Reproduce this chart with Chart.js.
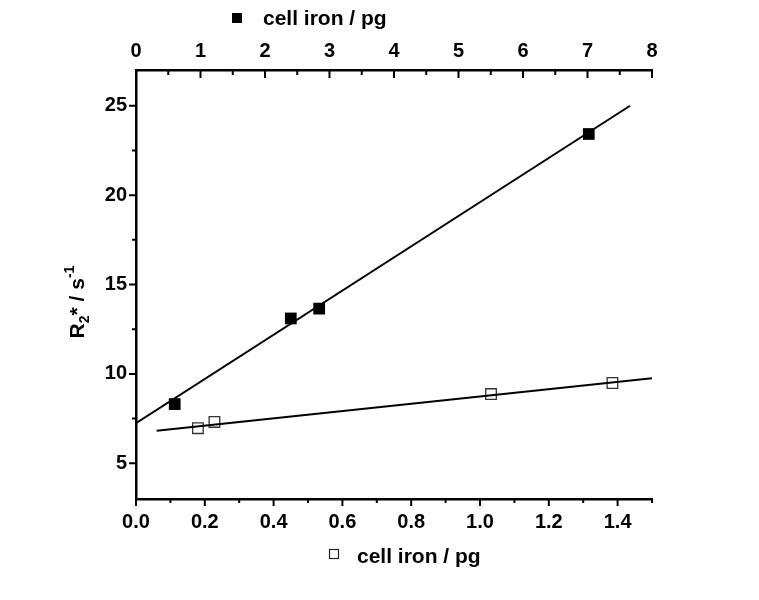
<!DOCTYPE html>
<html>
<head>
<meta charset="utf-8">
<script src="https://cdn.jsdelivr.net/npm/chart.js@4.4.1/dist/chart.umd.min.js"></script>
<style>
  html, body { margin: 0; padding: 0; background: #fff; }
</style>
</head>
<body>
<canvas id="r2Chart" width="759" height="600"></canvas>
<script>
// filled squares - plotted against the top axis (0..8 pg)
var filledIron = [0.6, 2.4, 2.84, 7.02];
var filledR2 = [8.31, 13.1, 13.65, 23.42];
var filledFitIron = [0, 7.66];
var filledFitR2 = [7.24, 25.0];

// open squares - plotted against the bottom axis (0..1.5 pg)
var openIron = [0.18, 0.228, 1.032, 1.385];
var openR2 = [6.96, 7.31, 8.87, 9.49];
var openFitIron = [0.06, 1.5];
var openFitR2 = [6.82, 9.75];

// tick positions
var bottomTicks = [0, 0.2, 0.4, 0.6, 0.8, 1.0, 1.2, 1.4];
var bottomMinor = [0.1, 0.3, 0.5, 0.7, 0.9, 1.1, 1.3, 1.5];
var topTicks = [0, 1, 2, 3, 4, 5, 6, 7, 8];
var topMinor = [0.5, 1.5, 2.5, 3.5, 4.5, 5.5, 6.5, 7.5];
var yTicks = [5, 10, 15, 20, 25];
var yMinor = [7.5, 12.5, 17.5, 22.5];

var axisTitle = 'cell iron / pg';
var FONT = "'Liberation Sans', Arial, sans-serif";

function toPoints(xs, ys) {
    return xs.map(function (v, i) { return { x: v, y: ys[i] }; });
}

function fixTicks(list) {
    return function (scale) {
        scale.ticks = list.map(function (v) { return { value: v }; });
    };
}

// tick marks (major + minor) and the axis titles
var decorations = {
    id: 'decorations',
    afterDraw: function (chart) {
        var ctx = chart.ctx;
        var sx = chart.scales.x, st = chart.scales.x2, sy = chart.scales.y;
        var area = chart.chartArea;
        ctx.save();
        ctx.strokeStyle = '#000';
        ctx.lineWidth = 2;
        ctx.beginPath();
        // bottom axis: ticks point outward (down)
        bottomTicks.forEach(function (v) { var p = sx.getPixelForValue(v); ctx.moveTo(p, area.bottom); ctx.lineTo(p, area.bottom + 7); });
        bottomMinor.forEach(function (v) { var p = sx.getPixelForValue(v); ctx.moveTo(p, area.bottom); ctx.lineTo(p, area.bottom + 4); });
        // top axis: ticks point inward (down)
        topTicks.forEach(function (v) { var p = st.getPixelForValue(v); ctx.moveTo(p, area.top); ctx.lineTo(p, area.top + 8); });
        topMinor.forEach(function (v) { var p = st.getPixelForValue(v); ctx.moveTo(p, area.top); ctx.lineTo(p, area.top + 5); });
        // left axis: ticks point outward (left)
        yTicks.forEach(function (v) { var p = sy.getPixelForValue(v); ctx.moveTo(area.left, p); ctx.lineTo(area.left - 7, p); });
        yMinor.forEach(function (v) { var p = sy.getPixelForValue(v); ctx.moveTo(area.left, p); ctx.lineTo(area.left - 4, p); });
        ctx.stroke();

        // top title with filled square
        ctx.fillStyle = '#000';
        ctx.font = 'bold 21px ' + FONT;
        ctx.textBaseline = 'middle';
        ctx.textAlign = 'left';
        ctx.fillRect(232, 13, 10, 10);
        ctx.fillText(axisTitle, 263, 19);

        // bottom title with open square
        ctx.lineWidth = 1.2;
        ctx.strokeStyle = '#222';
        ctx.strokeRect(329.5, 549.5, 9, 9);
        ctx.fillText(axisTitle, 357, 557);

        // y title: R2* / s-1 with sub/superscript
        ctx.translate(84, 302);
        ctx.rotate(-Math.PI / 2);
        ctx.textBaseline = 'alphabetic';
        var big = 'bold 21px ' + FONT, small = 'bold 14px ' + FONT;
        var parts = [
            { t: 'R', f: big, dy: 0 },
            { t: '2', f: small, dy: 5 },
            { t: '* / s', f: big, dy: 0 },
            { t: '-1', f: small, dy: -10 }
        ];
        var total = 0;
        parts.forEach(function (p) { ctx.font = p.f; p.w = ctx.measureText(p.t).width; total += p.w; });
        var cx = -total / 2;
        parts.forEach(function (p) { ctx.font = p.f; ctx.fillText(p.t, cx, p.dy); cx += p.w; });
        ctx.restore();
    }
};

var tickFont = { family: FONT, size: 20, weight: 'bold' };

var r2Chart = new Chart(document.getElementById('r2Chart'), {
    type: 'scatter',
    data: {
        datasets: [
            {
                label: 'fit (top)',
                data: toPoints(filledFitIron, filledFitR2),
                xAxisID: 'x2',
                showLine: true,
                borderColor: '#000',
                borderWidth: 2,
                pointRadius: 0
            },
            {
                label: 'fit (bottom)',
                data: toPoints(openFitIron, openFitR2),
                xAxisID: 'x',
                showLine: true,
                borderColor: '#000',
                borderWidth: 2,
                pointRadius: 0
            },
            {
                label: 'filled',
                data: toPoints(filledIron, filledR2),
                xAxisID: 'x2',
                pointStyle: 'rect',
                pointRadius: 8.3,
                backgroundColor: '#000',
                borderColor: '#000',
                borderWidth: 0
            },
            {
                label: 'open',
                data: toPoints(openIron, openR2),
                xAxisID: 'x',
                pointStyle: 'rect',
                pointRadius: 7.5,
                backgroundColor: '#fff',
                borderColor: '#333',
                borderWidth: 1.3
            }
        ]
    },
    options: {
        responsive: false,
        animation: false,
        layout: { padding: { left: 0, right: 107, top: 0, bottom: 0 } },
        plugins: { legend: { display: false }, tooltip: { enabled: false } },
        scales: {
            x: {
                type: 'linear',
                position: 'bottom',
                min: 0,
                max: 1.5,
                afterBuildTicks: fixTicks(bottomTicks),
                afterFit: function (s) { s.height = 101; },
                grid: { display: false, drawTicks: false },
                border: { display: true, color: '#000', width: 2.5 },
                ticks: {
                    color: '#000',
                    font: tickFont,
                    padding: 11,
                    maxRotation: 0,
                    callback: function (v) { return Number(v).toFixed(1); }
                }
            },
            x2: {
                type: 'linear',
                position: 'top',
                min: 0,
                max: 8,
                afterBuildTicks: fixTicks(topTicks),
                afterFit: function (s) { s.height = 70; },
                grid: { display: false, drawTicks: false },
                border: { display: true, color: '#000', width: 2.5 },
                ticks: {
                    color: '#000',
                    font: tickFont,
                    padding: 7,
                    maxRotation: 0,
                    callback: function (v) { return String(v); }
                }
            },
            y: {
                type: 'linear',
                position: 'left',
                min: 3,
                max: 27,
                afterBuildTicks: fixTicks(yTicks),
                afterFit: function (s) { s.width = 136; },
                grid: { display: false, drawTicks: false },
                border: { display: true, color: '#000', width: 2.5 },
                ticks: {
                    color: '#000',
                    font: tickFont,
                    padding: 9,
                    callback: function (v) { return String(v); }
                }
            }
        }
    },
    plugins: [decorations]
});
</script>
</body>
</html>
